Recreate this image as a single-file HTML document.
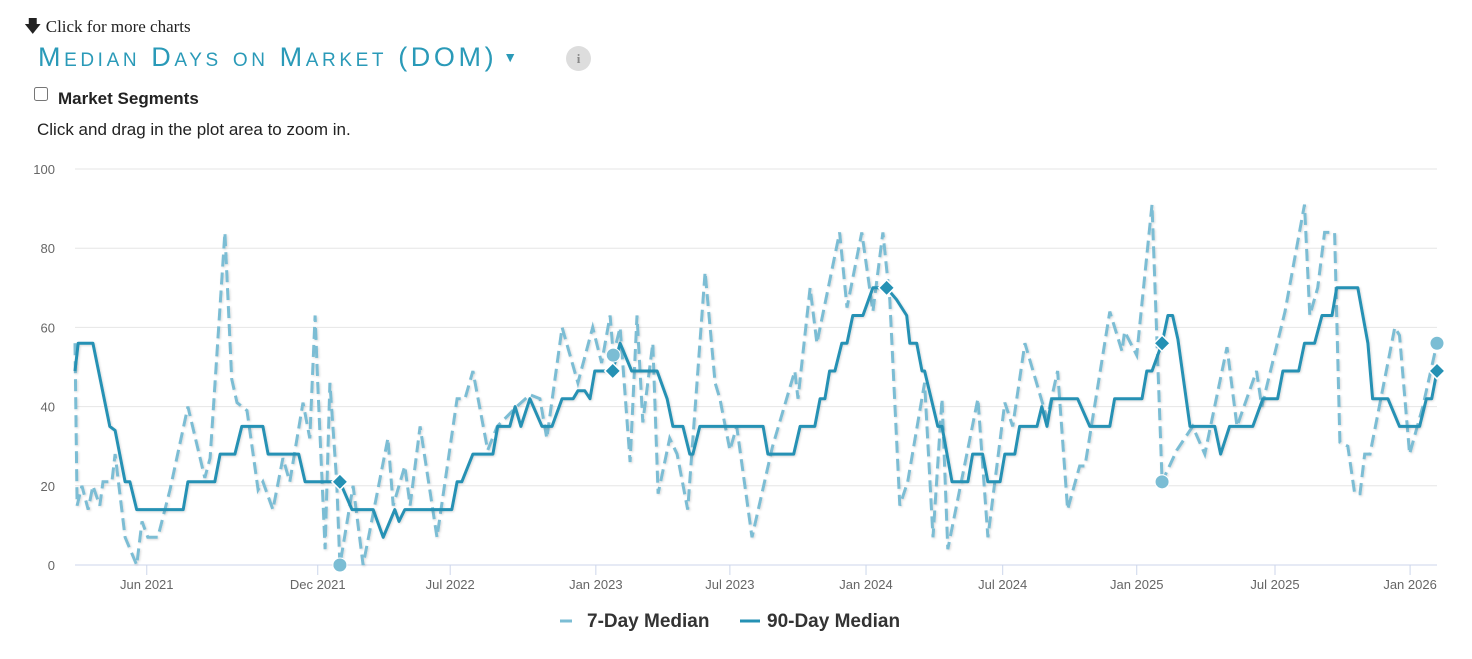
<!DOCTYPE html>
<html><head><meta charset="utf-8">
<style>
body{margin:0;width:1472px;height:659px;background:#fff;position:relative;overflow:hidden;font-family:"Liberation Sans",sans-serif;}
.abs{position:absolute;}
</style></head>
<body>
<div class="abs" style="left:24px;top:14px;font-family:'Liberation Serif',serif;font-size:17px;color:#222;">&#129095; Click for more charts</div>
<div class="abs" style="left:38px;top:42px;font-size:27px;color:#2a9ab8;font-variant:small-caps;letter-spacing:3.6px;white-space:nowrap;">Median Days on Market (DOM)<span style="font-size:14px;vertical-align:4px;letter-spacing:0;margin-left:6px;">&#9660;</span></div>
<div class="abs" style="left:566px;top:46px;width:25px;height:25px;border-radius:50%;background:#ddd;color:#888;font-size:13px;font-weight:bold;text-align:center;line-height:25px;font-family:'Liberation Serif',serif;">i</div>
<input type="checkbox" class="abs" style="left:34px;top:87px;margin:0;width:14px;height:14px;">
<div class="abs" style="left:58px;top:89px;font-size:17px;font-weight:bold;color:#222;">Market Segments</div>
<div class="abs" style="left:37px;top:120px;font-size:17px;color:#222;">Click and drag in the plot area to zoom in.</div>
<svg class="abs" id="chart" style="left:0;top:0;" width="1472" height="659"></svg>
<script>
const yTicks=[0,20,40,60,80,100];
const xTickWeeks=[13.6,46.0,71.1,98.7,124.1,149.9,175.8,201.2,227.4,253.0];
const xTickLabels=["Jun 2021","Dec 2021","Jul 2022","Jan 2023","Jul 2023","Jan 2024","Jul 2024","Jan 2025","Jul 2025","Jan 2026"];
const med90Weeks=[0,0.6,3.4,6.6,7.6,9.5,10.4,11.7,20.5,21.4,26.5,27.5,30.3,31.6,35.6,36.6,42.4,43.6,50.2,52.5,56.5,58.4,60.6,61.4,62.5,71.4,72.4,73.3,75.4,79.2,80.1,82.4,83.4,84.5,86.2,88.5,90.4,92.3,94.4,95.3,96.6,97.6,98.5,101.9,103.3,105.5,110.3,112.2,113.3,115.2,116.5,117.1,118.4,130.4,131.3,136.2,137.4,140.2,141.2,142.1,143.0,144.0,145.3,146.3,147.4,149.3,151.2,153.8,155.7,157.6,158.2,159.5,160.5,161.0,163.5,164.3,166.2,169.2,170.1,172.0,173.0,175.3,176.2,178.1,179.0,182.3,183.2,184.2,185.1,190.0,192.3,196.1,197.0,202.2,203.1,204.1,206.0,207.1,208.0,209.0,211.3,216.0,217.1,218.8,223.2,225.1,227.9,228.9,231.9,233.0,234.9,236.3,238.2,239.1,243.1,245.0,245.9,248.8,251.0,254.8,256.1,257.1,258.1];
const med90Values=[49,56,56,35,34,21,21,14,14,21,21,28,28,35,35,28,28,21,21,14,14,7,14,11,14,14,21,21,28,28,35,35,40,35,42,35,35,42,42,44,44,42,49,49,56,49,49,42,35,35,28,28,35,35,28,28,35,35,42,42,49,49,56,56,63,63,70,70,67,63,56,56,49,49,35,35,21,21,28,28,21,21,28,28,35,35,40,35,42,42,35,35,42,42,49,49,56,63,63,57,35,35,28,35,35,42,42,49,49,56,56,63,63,70,70,56,42,42,35,35,42,42,49];
const med7Weeks=[0,0.4,1.3,2.5,3.4,4.7,5.3,7.0,7.6,9.5,11.7,12.7,13.8,15.7,18.0,21.4,24.6,25.6,28.4,29.7,30.7,32.6,34.7,35.6,37.5,39.4,40.7,43.2,44.5,45.5,46.0,47.4,48.3,49.6,50.2,52.7,54.6,59.3,60.3,62.5,63.5,65.4,68.6,72.4,73.9,75.4,78.2,80.0,83.7,86.2,88.1,89.4,92.3,95.3,98.1,99.8,101.4,102.0,103.3,105.2,106.5,107.6,109.5,110.5,112.7,114.1,116.1,119.4,121.3,122.2,124.1,125.4,128.3,132.2,136.4,137.0,139.3,140.6,144.9,146.3,149.1,151.2,153.1,154.4,156.3,157.8,161.0,162.6,164.3,165.4,171.1,173.0,176.2,177.7,180.0,184.2,186.2,188.1,190.4,191.4,196.1,198.4,198.9,201.2,204.1,206.0,208.8,211.8,214.1,218.3,220.2,223.9,224.9,229.3,233.0,234.0,235.5,236.8,238.7,239.7,241.2,242.5,243.5,244.4,245.4,250.1,251.0,252.9,255.4,258.1];
const med7Values=[56,15,20,14,20,15,21,21,28,7,0,11,7,7,19,40,22,27,84,47,41,39,19,21,14,27,21,41,32,63,46,4,46,21,0,20,0,32,15,25,15,35,7,42,42,49,29,35,40,43,42,32,60,46,60,51,63,53,60,26,63,36,56,18,32,28,14,74,46,42,29,35,7,30,49,42,70,56,84,65,84,64,84,67,15,21,46,7,42,4,42,7,41,35,56,37,49,14,25,25,64,54,59,53,91,21,29,35,28,55,35,49,40,64,91,63,70,84,84,31,30,18,18,28,28,60,58,28,40,56];
const circleWeeks=[50.2,102.0,206.0,258.1];
const circleValues=[0,53,21,56];
const diamondWeeks=[50.2,101.9,153.8,206.0,258.1];
const diamondValues=[21,49,70,56,49];

const NS="http://www.w3.org/2000/svg";
const svg=document.getElementById('chart');
const X0=75,X1=1437,Y0=565,Y1=169,WMAX=258.1;
const xs=w=>X0+(w/WMAX)*(X1-X0);
const ys=v=>Y0-(v/100)*(Y0-Y1);
function mk(t,a){const e=document.createElementNS(NS,t);for(const k in a)e.setAttribute(k,a[k]);svg.appendChild(e);return e;}
const defs=document.createElementNS(NS,'defs');
defs.innerHTML='<filter id="sh" x="-5%" y="-5%" width="110%" height="110%"><feDropShadow dx="1" dy="1" stdDeviation="1" flood-color="#000" flood-opacity="0.15"/></filter>';
svg.appendChild(defs);
yTicks.forEach(v=>{
  const g=mk('line',{x1:X0,x2:X1,y1:ys(v),y2:ys(v),stroke:v===0?'#ccd6eb':'#e6e6e6','stroke-width':1});
  
  
  const t=mk('text',{x:55,y:ys(v)+5,'text-anchor':'end','font-size':13,fill:'#666','font-family':'Liberation Sans, sans-serif'});
  t.textContent=v;
  
  
});
xTickWeeks.forEach((w,i)=>{
  const l=mk('line',{x1:xs(w),x2:xs(w),y1:Y0,y2:Y0+10,stroke:'#ccd6eb','stroke-width':1});
  
  
  const t=mk('text',{x:xs(w),y:Y0+24,'text-anchor':'middle','font-size':13,fill:'#666','font-family':'Liberation Sans, sans-serif'});
  t.textContent=xTickLabels[i];
  
  
});
const p7=mk('path',{d:med7Weeks.map((w,i)=>(i?'L':'M')+xs(w).toFixed(1)+','+ys(med7Values[i]).toFixed(1)).join(''),fill:'none',stroke:'#7bbdd4','stroke-width':3,'stroke-dasharray':'12,6',filter:'url(#sh)'});


const p90=mk('path',{d:med90Weeks.map((w,i)=>(i?'L':'M')+xs(w).toFixed(1)+','+ys(med90Values[i]).toFixed(1)).join(''),fill:'none',stroke:'#2591b4','stroke-width':3,'stroke-linejoin':'round',filter:'url(#sh)'});


circleWeeks.forEach((w,i)=>{
  const c=mk('circle',{cx:xs(w),cy:ys(circleValues[i]),r:7,fill:'#7bbdd4',stroke:'#fff','stroke-width':1});
  
  
});
diamondWeeks.forEach((w,i)=>{
  const x=xs(w),y=ys(diamondValues[i]);
  const d=mk('path',{d:`M${x},${y-8}L${x+8},${y}L${x},${y+8}L${x-8},${y}Z`,fill:'#2591b4',stroke:'#fff','stroke-width':1.5});
  
  
});
const l1=mk('line',{x1:560,x2:575,y1:621,y2:621,stroke:'#7bbdd4','stroke-width':3,'stroke-dasharray':'12,6'});


const t1=mk('text',{x:587,y:627,'font-size':19,'font-weight':'bold',fill:'#333','font-family':'Liberation Sans, sans-serif'});
t1.textContent='7-Day Median';


const l2=mk('line',{x1:740,x2:760,y1:621,y2:621,stroke:'#2591b4','stroke-width':3});


const t2=mk('text',{x:767,y:627,'font-size':19,'font-weight':'bold',fill:'#333','font-family':'Liberation Sans, sans-serif'});
t2.textContent='90-Day Median';


</script>
</body></html>
